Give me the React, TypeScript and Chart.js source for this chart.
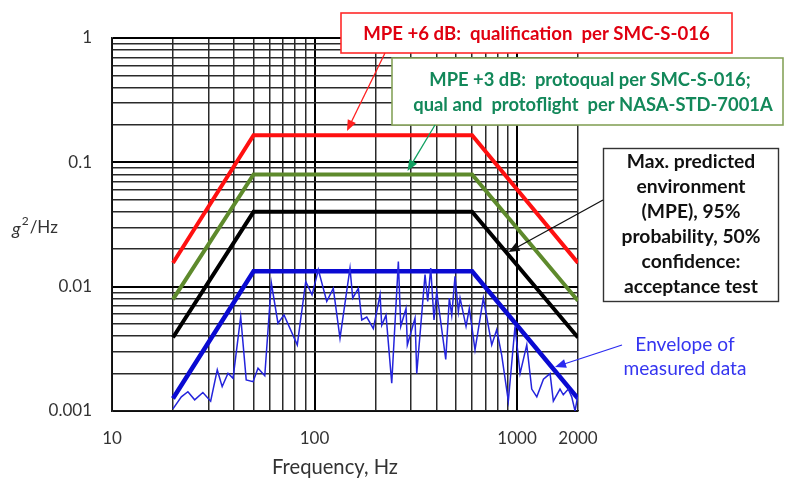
import React, { useEffect, useRef } from 'react';
import { Chart, registerables } from 'chart.js';

Chart.register(...registerables);

// Envelope breakpoints (Hz) and levels (g^2/Hz)
const envFreq = [20, 50, 600, 2000];
const mpeQual = [0.0155, 0.165, 0.165, 0.0155]; // MPE +6 dB
const mpeProto = [0.0079, 0.08, 0.08, 0.0077]; // MPE +3 dB
const mpeAccept = [0.0039, 0.04, 0.04, 0.0039]; // MPE
const envelopeMeas = [0.00126, 0.0133, 0.0133, 0.00126]; // envelope of measured data

const measFreq = [
  20, 22, 23.7, 25.6, 28.1, 30.7, 33.1, 35, 37.4, 39.6, 43.2, 46, 49.7, 52.6, 56.8, 61.2, 66, 70.7, 82.2, 90.5,
  97.2, 102, 104.4, 114.9, 123.8, 133.6, 149.7, 154.4, 164.6, 171.1, 181.1, 195.2, 210.7, 214.7, 225.5, 240.6,
  259.4, 266.6, 283.1, 287.3, 313.6, 319.7, 351.3, 362.2, 374.8, 389.1, 401.2, 444.6, 463.2, 476, 494.1, 513.2,
  523.2, 560, 581.4, 620.2, 681.8, 750, 793.6, 840.3, 905.7, 977.4, 1035, 1117, 1182, 1252, 1350, 1456, 1511,
  1630, 1692, 1792, 1862, 1934, 1990,
];
const measVal = [
  0.00104, 0.0013, 0.00143, 0.00123, 0.00141, 0.0012, 0.00214, 0.00157, 0.00201, 0.00183, 0.00574, 0.00178,
  0.00172, 0.00221, 0.00192, 0.0107, 0.00508, 0.00593, 0.0034, 0.011, 0.0086, 0.0117, 0.0137, 0.0076, 0.0097,
  0.00385, 0.0141, 0.0081, 0.0097, 0.0054, 0.0057, 0.0046, 0.0086, 0.0049, 0.0059, 0.00167, 0.0159, 0.0048,
  0.0067, 0.0034, 0.0056, 0.002, 0.0125, 0.0076, 0.0141, 0.0054, 0.0091, 0.0026, 0.0081, 0.0059, 0.0121,
  0.0063, 0.0081, 0.0048, 0.0067, 0.0031, 0.0081, 0.0034, 0.0045, 0.0028, 0.0012, 0.0048, 0.002, 0.0034,
  0.0015, 0.0013, 0.0018, 0.002, 0.0012, 0.0015, 0.00135, 0.0015, 0.0013, 0.001, 0.0013,
];

// Grid / tick values
const xGrid = [10, 20, 30, 40, 50, 60, 70, 80, 90, 100, 200, 300, 400, 500, 600, 700, 800, 900, 1000, 2000];
const xLabels = [10, 100, 1000, 2000];
const yGrid = [
  0.001, 0.002, 0.003, 0.004, 0.005, 0.006, 0.007, 0.008, 0.009,
  0.01, 0.02, 0.03, 0.04, 0.05, 0.06, 0.07, 0.08, 0.09,
  0.1, 0.2, 0.3, 0.4, 0.5, 0.6, 0.7, 0.8, 0.9, 1,
];
const yLabels = [0.001, 0.01, 0.1, 1];

const FONT = 'Lato, "Open Sans", "DejaVu Sans", sans-serif';

function fitSize(ctx: CanvasRenderingContext2D, text: string, weight: string, target: number, style = '') {
  ctx.font = `${style} ${weight} 20px ${FONT}`;
  const w = ctx.measureText(text).width;
  return (20 * target) / w;
}

function arrow(ctx: CanvasRenderingContext2D, x1: number, y1: number, x2: number, y2: number, color: string) {
  const ang = Math.atan2(y2 - y1, x2 - x1);
  const hl = 11;
  const hw = 4.5;
  ctx.save();
  ctx.strokeStyle = color;
  ctx.fillStyle = color;
  ctx.lineWidth = 1.3;
  ctx.beginPath();
  ctx.moveTo(x1, y1);
  ctx.lineTo(x2 - Math.cos(ang) * hl * 0.8, y2 - Math.sin(ang) * hl * 0.8);
  ctx.stroke();
  ctx.beginPath();
  ctx.moveTo(x2, y2);
  ctx.lineTo(x2 - Math.cos(ang) * hl - Math.sin(ang) * hw, y2 - Math.sin(ang) * hl + Math.cos(ang) * hw);
  ctx.lineTo(x2 - Math.cos(ang) * hl + Math.sin(ang) * hw, y2 - Math.sin(ang) * hl - Math.cos(ang) * hw);
  ctx.closePath();
  ctx.fill();
  ctx.restore();
}

const annotationPlugin = {
  id: 'annotations',
  afterDraw(chart: any) {
    const ctx: CanvasRenderingContext2D = chart.ctx;
    ctx.save();
    ctx.textAlign = 'center';
    ctx.textBaseline = 'middle';

    // Box 1 (red)
    ctx.fillStyle = '#ffffff';
    ctx.fillRect(341, 13, 391, 40);
    ctx.strokeStyle = '#ff2a2a';
    ctx.lineWidth = 1.6;
    ctx.strokeRect(341, 13, 391, 40);
    const t1 = 'MPE +6 dB:  qualification  per SMC-S-016';
    const s1 = fitSize(ctx, t1, 'bold', 347);
    ctx.font = `bold ${s1}px ${FONT}`;
    ctx.fillStyle = '#e00010';
    ctx.fillText(t1, 536.5, 34);

    // Box 2 (green)
    ctx.fillStyle = '#ffffff';
    ctx.fillRect(392, 58, 391, 67);
    ctx.strokeStyle = '#86a35a';
    ctx.lineWidth = 1.6;
    ctx.strokeRect(392, 58, 391, 67);
    const t2a = 'MPE +3 dB:  protoqual per SMC-S-016;';
    const t2b = 'qual and  protoflight  per NASA-STD-7001A';
    const s2 = fitSize(ctx, t2b, 'bold', 360);
    ctx.font = `bold ${s2}px ${FONT}`;
    ctx.fillStyle = '#13885a';
    ctx.fillText(t2a, 590, 80.5);
    ctx.fillText(t2b, 593, 105.5);

    // Box 3 (black)
    ctx.fillStyle = '#ffffff';
    ctx.fillRect(603.5, 148.5, 175, 153);
    ctx.strokeStyle = '#333333';
    ctx.lineWidth = 1.4;
    ctx.strokeRect(603.5, 148.5, 175, 153);
    const lines3 = ['Max. predicted', 'environment', '(MPE), 95%', 'probability, 50%', 'confidence:', 'acceptance test'];
    const s3 = fitSize(ctx, 'probability, 50%', 'bold', 139);
    ctx.font = `bold ${s3}px ${FONT}`;
    ctx.fillStyle = '#111111';
    lines3.forEach((l, i) => ctx.fillText(l, 691, 162 + 25 * i));

    // Blue text
    const s4 = fitSize(ctx, 'measured data', 'normal', 123);
    ctx.font = `normal ${s4}px ${FONT}`;
    ctx.fillStyle = '#3535f0';
    ctx.fillText('Envelope of', 685, 345);
    ctx.fillText('measured data', 685, 368.5);

    // Arrows
    arrow(ctx, 385, 53, 347, 131, '#ff2020');
    arrow(ctx, 435, 125, 407.5, 171, '#10a060');
    arrow(ctx, 603, 200, 508.5, 252, '#111111');
    arrow(ctx, 622, 345, 555, 367, '#2a2af0');

    // Axis titles
    const s5 = fitSize(ctx, 'Frequency, Hz', 'normal', 126);
    ctx.font = `normal ${s5}px ${FONT}`;
    ctx.fillStyle = '#333333';
    ctx.fillText('Frequency, Hz', 335, 467);

    ctx.textAlign = 'left';
    ctx.font = `italic normal 18px ${FONT}`;
    const gx = 12;
    ctx.fillText('g', gx, 229);
    const gw = ctx.measureText('g').width;
    ctx.font = `normal 12px ${FONT}`;
    ctx.fillText('2', gx + gw + 1, 221);
    const w2 = ctx.measureText('2').width;
    ctx.font = `normal 17px ${FONT}`;
    ctx.fillText('/Hz', gx + gw + w2 + 2, 228);

    ctx.restore();
  },
};

export default function App() {
  const ref = useRef<HTMLCanvasElement | null>(null);

  useEffect(() => {
    if (!ref.current) return;
    const toXY = (fs: number[], vs: number[]) => fs.map((f, i) => ({ x: f, y: vs[i] }));
    const isDecade = (v: number) => yLabels.includes(v);
    const chart = new Chart(ref.current, {
      type: 'line',
      data: {
        datasets: [
          { label: 'Measured', data: toXY(measFreq, measVal), borderColor: '#2424dc', borderWidth: 1.5, pointRadius: 0, tension: 0 },
          { label: 'Envelope', data: toXY(envFreq, envelopeMeas), borderColor: '#0a0ad2', borderWidth: 4.5, pointRadius: 0, tension: 0 },
          { label: 'MPE', data: toXY(envFreq, mpeAccept), borderColor: '#000000', borderWidth: 4, pointRadius: 0, tension: 0 },
          { label: 'MPE +3 dB', data: toXY(envFreq, mpeProto), borderColor: '#5e8a2c', borderWidth: 4, pointRadius: 0, tension: 0 },
          { label: 'MPE +6 dB', data: toXY(envFreq, mpeQual), borderColor: '#ff1010', borderWidth: 4, pointRadius: 0, tension: 0 },
        ],
      },
      options: {
        animation: false,
        responsive: false,
        maintainAspectRatio: false,
        layout: { padding: { left: 0, top: 38, right: 207, bottom: 0 } },
        plugins: { legend: { display: false }, tooltip: { enabled: false } },
        scales: {
          x: {
            type: 'logarithmic',
            min: 10,
            max: 2000,
            afterBuildTicks: (scale: any) => {
              scale.ticks = xGrid.map((v) => ({ value: v }));
            },
            afterFit: (scale: any) => {
              scale.height = 68;
            },
            ticks: {
              autoSkip: false,
              maxRotation: 0,
              padding: 17,
              color: '#333333',
              font: { family: FONT, size: 17 },
              callback: (v: any) => (xLabels.includes(Number(v)) ? String(v) : ''),
            },
            grid: {
              drawTicks: false,
              color: (c: any) => ([10, 100, 1000].includes(c.tick?.value) ? '#000000' : '#2a2a2a'),
              lineWidth: (c: any) => ([10, 100, 1000].includes(c.tick?.value) ? 2 : 1.5),
            },
            border: { display: true, color: '#1a1a1a', width: 1.6 },
          },
          y: {
            type: 'logarithmic',
            min: 0.001,
            max: 1,
            afterBuildTicks: (scale: any) => {
              scale.ticks = yGrid.map((v) => ({ value: v }));
            },
            afterFit: (scale: any) => {
              scale.width = 112;
            },
            ticks: {
              autoSkip: false,
              padding: 20,
              color: '#333333',
              font: { family: FONT, size: 17 },
              callback: (v: any) => (isDecade(Number(v)) ? String(v) : ''),
            },
            grid: {
              drawTicks: false,
              color: (c: any) => (isDecade(c.tick?.value) ? '#000000' : '#2a2a2a'),
              lineWidth: (c: any) => (isDecade(c.tick?.value) ? 2 : 1.5),
            },
            border: { display: true, color: '#1a1a1a', width: 1.6 },
          },
        },
      },
      plugins: [annotationPlugin],
    });
    return () => chart.destroy();
  }, []);

  return (
    <div style={{ position: 'fixed', left: 0, top: 0, width: 785, height: 479, background: '#ffffff' }}>
      <canvas ref={ref} width={785} height={479} style={{ width: 785, height: 479, display: 'block' }} />
    </div>
  );
}
